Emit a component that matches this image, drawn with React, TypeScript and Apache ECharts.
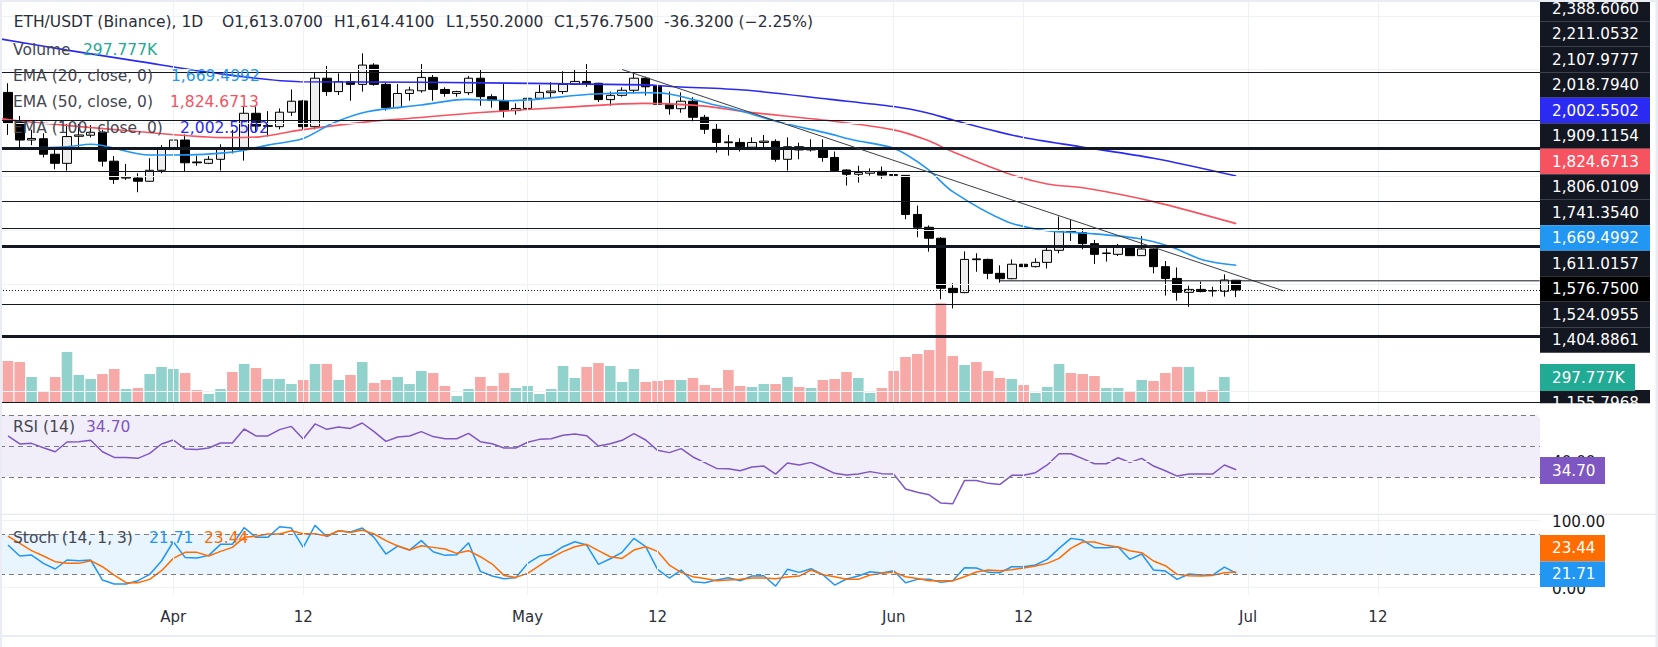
import React, { useEffect, useRef } from "react";
import * as echarts from "echarts";

// ---------- data (day index: 0 = Apr 1, candles Mar 18 .. Jun 30) ----------
const firstDay = -14;
const opens = [2315,2206,2137,2142,2084,2050,2151,2155,2166,2058, 1995,1995,1983,2024,2102,2137,2055,2050,2065,2107,
  2106,2237,2188,2187,2241,2283,2187,2368,2318,2355, 2345,2417,2345,2258,2311,2321,2371,2326,2311,2314,
  2368,2299,2285,2247,2255,2293,2314,2318,2345,2356, 2349,2288,2304,2323,2368,2339,2270,2254,2282,2222,
  2177,2130,2128,2110,2128,2132,2065,2112,2100,2108, 2072,2025,2009,2013,2020,2008,2005,1859,1811,1770,
  1583,1567,1693,1691,1639,1619,1673,1664,1680,1725, 1797,1791,1750,1713,1710,1737,1705,1730,1664,1620,
  1568,1579,1575,1572,1613.07];
const highs = [2349,2227,2175,2162,2106,2199,2199,2193,2175,2077, 2048,2013,2069,2118,2165,2158,2079,2077,2121,2175,
  2262,2262,2245,2255,2326,2287,2389,2414,2386,2386, 2461,2424,2351,2346,2336,2421,2380,2334,2321,2376,
  2401,2308,2346,2274,2324,2343,2353,2394,2399,2421, 2351,2318,2334,2386,2374,2343,2318,2315,2297,2231,
  2197,2156,2143,2147,2156,2140,2147,2127,2140,2140, 2094,2028,2041,2031,2038,2019,2006,1892,1818,1774,
  1602,1721,1714,1694,1669,1691,1691,1695,1739,1851, 1838,1807,1764,1732,1749,1739,1778,1732,1685,1661,
  1593,1608,1589,1635,1614.41];
const lows = [2156,2104,2118,2072,2028,2023,2106,2147,2038,1973, 1988,1942,1981,2013,2081,2019,2041,2047,2023,2087,
  2060,2168,2150,2177,2227,2177,2177,2302,2305,2284, 2318,2340,2247,2255,2284,2314,2284,2299,2299,2305,
  2265,2258,2221,2232,2249,2289,2295,2309,2343,2336, 2279,2265,2299,2311,2303,2253,2232,2239,2207,2160,
  2090,2079,2094,2103,2106,2056,2023,2065,2094,2056, 2019,1967,1978,2004,1993,1957,1841,1774,1720,1542,
  1508,1565,1645,1617,1604,1617,1654,1661,1657,1714, 1760,1729,1674,1683,1704,1704,1704,1639,1556,1537,
  1514,1568,1552,1552,1550.2];
const closes = [2199,2137,2143,2084,2050,2150,2156,2166,2058,1990, 1998,1983,2024,2102,2137,2052,2052,2065,2106,2103,
  2237,2189,2191,2241,2282,2187,2368,2318,2355,2345, 2417,2345,2258,2311,2324,2371,2326,2311,2318,2368,
  2299,2285,2247,2255,2293,2315,2320,2345,2356,2348, 2288,2304,2323,2368,2336,2270,2254,2282,2222,2177,
  2128,2127,2112,2128,2133,2065,2112,2100,2108,2072, 2023,2009,2016,2019,2006,2005,1859,1811,1770,1583,
  1567,1691,1690,1639,1619,1673,1664,1680,1725,1796, 1795,1750,1710,1715,1739,1705,1730,1664,1620,1568,
  1579,1571,1573,1614,1576.75];
const volumesK = [488,476,298,131,298,596,322,274,333,393, 155,167,333,417,393,345,143,95,155,357,
  453,405,274,274,214,262,453,453,262,322, 476,226,262,298,214,369,345,191,71,155,
  298,191,345,167,191,95,155,429,286,417, 464,429,238,393,238,250,262,262,286,202,
  167,381,191,179,214,214,298,179,167,262, 274,357,286,107,167,369,536,572,619,1176,
  548,441,476,369,286,274,202,107,179,453, 345,333,310,167,167,131,262,250,345,417,
  417,131,143,297.777,null];
const rsiValues = [56.6,51.4,51.8,49.0,46.4,52.7,52.9,53.8,46.4,42.7, 42.7,42.1,45.3,51.4,54.0,48.2,47.9,48.8,52.0,52.0,
  61.1,56.6,56.6,60.7,62.8,54.6,64.4,60.9,62.4,61.5, 65.0,59.4,53.1,55.9,56.6,59.4,56.2,54.8,54.8,58.3,
  52.9,51.6,48.8,48.8,52.5,54.4,54.8,57.0,57.9,56.8, 50.1,51.6,53.8,58.1,54.0,47.3,45.8,48.4,43.0,39.3,
  35.6,35.4,34.1,36.5,37.1,31.9,39.1,37.8,39.5,36.0, 32.4,31.3,31.9,33.5,32.2,31.9,22.2,20.1,18.5,13.1,
  12.7,27.8,27.8,25.9,25.2,31.1,31.1,32.8,37.8,45.1, 45.1,41.9,38.6,38.6,42.5,39.5,42.1,37.1,34.1,30.6,
  31.9,31.9,31.9,37.8,34.70];
const stochK = [63.6,47.2,48.7,36.3,27.9,41.3,40.3,41.3,11.5,5.5, 5.5,10.5,19.9,39.8,68.5,45.2,44.2,48.2,64.6,64.6,
  89.4,75.0,75.0,90.9,88.9,60.1,92.9,76.0,84.9,82.9, 88.9,75.0,50.2,62.1,56.1,70.1,53.7,48.2,49.2,67.1,
  24.4,17.4,13.5,15.0,36.3,47.2,49.7,61.1,68.5,63.6, 34.8,43.2,52.7,73.5,61.1,27.4,14.5,26.4,9.0,7.5,
  11.5,15.0,10.5,17.4,17.9,2.5,27.4,22.9,28.4,19.5, 4.0,13.0,17.4,23.9,21.9,25.4,7.5,12.5,12.5,8.0,
  10.5,29.8,29.3,22.9,22.4,31.3,31.3,33.8,42.2,58.6, 73.5,71.0,59.6,59.6,61.1,42.2,50.2,26.4,24.9,12.5,
  20.4,18.9,18.9,30.8,21.71];
const stochD = [77.0,66.1,55.2,47.2,38.8,36.3,36.3,40.3,31.3,18.9, 7.5,7.5,12.5,25.4,43.7,52.7,52.7,47.2,54.2,60.1,
  75.0,76.5,80.0,80.0,84.9,80.5,80.5,77.0,84.9,82.4, 85.9,80.0,70.1,62.1,56.1,62.6,60.1,57.6,51.2,55.2,
  46.2,35.3,18.4,15.4,21.4,32.8,44.7,53.7,61.1,64.6, 55.2,46.2,43.7,56.1,61.1,54.2,33.8,22.9,16.4,13.9,
  10.5,11.5,12.5,14.5,14.5,13.5,15.9,17.4,26.4,19.4, 16.4,12.5,12.5,18.9,21.4,23.4,16.4,13.9,10.5,10.5,
  10.5,16.4,23.4,26.4,25.4,26.9,29.3,32.3,36.3,43.7, 58.6,68.1,68.1,63.1,60.6,55.2,52.2,39.8,32.8,19.9,
  17.9,17.4,18.4,22.4,23.44];

const ema20Days = [-14.7,-9,-7,-2,0,5,8,11,13.5,16.4,21,24.8,28.5,35.3,39.8,42,45.5,48.3,51.1,55.6,57.6,61,63.8,66,70.6,74,77.3,81.6,84.4,87.2,90];
const ema20Values = [2106,2112,2121,2081,2081,2092,2118,2143,2200,2243,2268,2289,2284,2308,2314,2309,2272,2243,2206,2160,2137,2106,2031,1944,1832,1798,1789,1770,1739,1689,1669.4992];
const ema50Days = [-14.7,-13,-2.8,4.5,7.3,10.7,16.4,20.9,25.7,34.2,39.8,42.1,45.4,48.3,55.6,61,63.8,66,70.6,74,77.3,83,90];
const ema50Values = [2218,2208,2168,2146,2149,2174,2205,2221,2239,2262,2274,2272,2262,2243,2209,2175,2137,2093,2013,1973,1957,1907,1824.6713];
const ema100Days = [-14.7,-9,-2.8,3,10.7,20.9,39.8,42.6,48.3,55.6,61,63.8,66,71.7,76.8,83,90];
const ema100Values = [2515,2473,2430,2390,2355,2353,2343,2336,2324,2289,2262,2239,2212,2149,2112,2069,2002.5502];

const trendDays = [38, 94];
const trendPrices = [2400.6, 1573.8];
const rayDays = [70, 115.7];
const rayPrice = 1611.0157;
const levelPrices = [2388.606, 2211.0532, 2107.9777, 2018.794, 1909.1154, 1806.0109, 1741.354, 1524.0955, 1404.8861, 1155.7968];
const thickLevels = [2107.9777, 1741.354, 1404.8861];
const lastClose = 1576.75;
const priceGridLevels = [1200, 1400, 1600, 1800, 2000, 2200, 2400, 2600];

const tickDays = [0, 11, 30, 41, 61, 72, 91, 102];
const tickLabels = ["Apr", "12", "May", "12", "Jun", "12", "Jul", "12"];

const scaleLabels = ["2,388.6060","2,211.0532","2,107.9777","2,018.7940","2,002.5502","1,909.1154","1,824.6713",
  "1,806.0109","1,741.3540","1,669.4992","1,611.0157","1,576.7500","1,524.0955","1,404.8861"];
const scaleLabelColors = ["#131722","#131722","#131722","#131722","#2a2af2","#131722","#f7525f",
  "#131722","#131722","#2196f3","#131722","#000000","#131722","#131722"];

const titleParts = ["ETH/USDT (Binance), 1D", "O1,613.0700", "H1,614.4100", "L1,550.2000", "C1,576.7500", "-36.3200 (\u22122.25%)"];

// ---------- layout constants ----------
const FONT = "'DejaVu Sans', sans-serif";
const X_MIN = -14.674, X_MAX = 115.724;
const PRICE_MIN = 1154.58, PRICE_MAX = 2660.19;
const VOL_MAX = 4788;
const RSI_MIN = 6.7, RSI_MAX = 77.3;
const ST_MIN = -10.8, ST_MAX = 108.3;
const GRID_W = 1540;

const UP_VOL = "#92d2cc";
const DOWN_VOL = "#f7a9a7";

function buildOption() {
  const days = opens.map((_, i) => firstDay + i);
  const candles = days.map((d, i) => [d, opens[i], closes[i], lows[i], highs[i]]);
  const vols = days
    .map((d, i) => ({ d, i }))
    .filter(({ i }) => volumesK[i] != null)
    .map(({ d, i }) => ({
      value: [d, volumesK[i]],
      itemStyle: { color: closes[i] >= opens[i] ? UP_VOL : DOWN_VOL },
    }));
  const pairs = (xs: number[], ys: number[]) => xs.map((x, i) => [x, ys[i]]);

  const grids = [
    { left: 0, top: 0, width: GRID_W, height: 403 },
    { left: 0, top: 0, width: GRID_W, height: 402 },
    { left: 0, top: 404, width: GRID_W, height: 109 },
    { left: 0, top: 515, width: GRID_W, height: 80 },
  ];
  const xAxes = grids.map((_, i) => ({
    type: "value",
    gridIndex: i,
    min: X_MIN,
    max: X_MAX,
    axisLine: { show: false },
    axisTick: { show: false },
    splitLine: { show: false },
    axisLabel:
      i === 3
        ? {
            show: true,
            customValues: tickDays,
            margin: 14,
            color: "#2a2e39",
            fontSize: 15,
            fontFamily: FONT,
            formatter: (v: number) => {
              const k = tickDays.indexOf(Math.round(v));
              return k >= 0 ? tickLabels[k] : "";
            },
          }
        : { show: false },
  }));
  const yRanges = [
    [PRICE_MIN, PRICE_MAX],
    [0, VOL_MAX],
    [RSI_MIN, RSI_MAX],
    [ST_MIN, ST_MAX],
  ];
  const yAxes = yRanges.map(([mn, mx], i) => ({
    type: "value",
    gridIndex: i,
    min: mn,
    max: mx,
    show: false,
    splitLine: { show: false },
  }));

  const faint = { color: "#eef1f6", width: 1, type: "solid" };
  const ml = (data: any[], lineStyle: any) => ({
    symbol: ["none", "none"],
    silent: true,
    animation: false,
    label: { show: false },
    emphasis: { disabled: true },
    lineStyle,
    data,
  });
  const dashed = { color: "#787b86", width: 1, type: [5, 4] };

  const series: any[] = [
    {
      type: "line", xAxisIndex: 0, yAxisIndex: 0, data: [], z: 0, silent: true,
      markLine: ml([...tickDays.map((d) => ({ xAxis: d })), ...priceGridLevels.map((p) => ({ yAxis: p }))], faint),
    },
    {
      type: "bar", xAxisIndex: 1, yAxisIndex: 1, data: vols, barWidth: 10.6, z: 1, silent: true,
    },
    {
      type: "candlestick", xAxisIndex: 0, yAxisIndex: 0, data: candles, barWidth: 9, z: 3,
      encode: { x: 0, y: [1, 2, 3, 4] },
      itemStyle: { color: "#eeeeee", color0: "#000000", borderColor: "#000000", borderColor0: "#000000", borderWidth: 1 },
      silent: true,
    },
    { type: "line", xAxisIndex: 0, yAxisIndex: 0, data: pairs(ema100Days, ema100Values), showSymbol: false, smooth: 0.3, z: 4, silent: true, lineStyle: { color: "#2a2af2", width: 1.6 } },
    { type: "line", xAxisIndex: 0, yAxisIndex: 0, data: pairs(ema50Days, ema50Values), showSymbol: false, smooth: 0.3, z: 4, silent: true, lineStyle: { color: "#f7525f", width: 1.6 } },
    { type: "line", xAxisIndex: 0, yAxisIndex: 0, data: pairs(ema20Days, ema20Values), showSymbol: false, smooth: 0.3, z: 4, silent: true, lineStyle: { color: "#2196f3", width: 1.6 } },
    { type: "line", xAxisIndex: 0, yAxisIndex: 0, data: pairs(trendDays, trendPrices), showSymbol: false, z: 5, silent: true, lineStyle: { color: "#3a3d46", width: 1 } },
    { type: "line", xAxisIndex: 0, yAxisIndex: 0, data: rayDays.map((d) => [d, rayPrice]), showSymbol: false, z: 5, silent: true, lineStyle: { color: "#131722", width: 1 } },
    {
      type: "line", xAxisIndex: 0, yAxisIndex: 0, data: [], z: 6, silent: true,
      markLine: ml(
        [
          ...levelPrices.map((p) => ({
            yAxis: p,
            lineStyle: { color: "#131722", width: thickLevels.includes(p) ? 3 : 1, type: "solid" },
          })),
          { yAxis: lastClose, lineStyle: { color: "#131722", width: 1, type: [1, 2] } },
        ],
        { color: "#131722", width: 1 }
      ),
    },
    {
      type: "line", xAxisIndex: 2, yAxisIndex: 2, data: [], z: 0, silent: true,
      markArea: { silent: true, itemStyle: { color: "rgba(126,87,194,0.1)" }, data: [[{ yAxis: 70 }, { yAxis: 30 }]] },
      markLine: ml([...tickDays.map((d) => ({ xAxis: d })), { yAxis: 40 }], faint),
    },
    {
      type: "line", xAxisIndex: 2, yAxisIndex: 2, data: [], z: 1, silent: true,
      markLine: ml([{ yAxis: 70 }, { yAxis: 50 }, { yAxis: 30 }], dashed),
    },
    {
      type: "line", xAxisIndex: 2, yAxisIndex: 2, data: days.map((d, i) => [d, rsiValues[i]]), showSymbol: false, z: 3, silent: true,
      lineStyle: { color: "#7e57c2", width: 1.5 },
    },
    {
      type: "line", xAxisIndex: 3, yAxisIndex: 3, data: [], z: 0, silent: true,
      markArea: { silent: true, itemStyle: { color: "rgba(33,150,243,0.1)" }, data: [[{ yAxis: 80 }, { yAxis: 20 }]] },
      markLine: ml([...tickDays.map((d) => ({ xAxis: d })), { yAxis: 100 }, { yAxis: 0 }], faint),
    },
    {
      type: "line", xAxisIndex: 3, yAxisIndex: 3, data: [], z: 1, silent: true,
      markLine: ml([{ yAxis: 80 }, { yAxis: 20 }], dashed),
    },
    {
      type: "line", xAxisIndex: 3, yAxisIndex: 3, data: days.map((d, i) => [d, stochK[i]]), showSymbol: false, z: 3, silent: true,
      lineStyle: { color: "#2196f3", width: 1.5 },
    },
    {
      type: "line", xAxisIndex: 3, yAxisIndex: 3, data: days.map((d, i) => [d, stochD[i]]), showSymbol: false, z: 4, silent: true,
      lineStyle: { color: "#ff6d00", width: 1.5 },
    },
  ];

  const Z = 100;
  const txt = (x: number, y: number, text: string, fill: string, size = 15.5, extra: any = {}) => ({
    type: "text", x, y, z: Z + 2, silent: true,
    style: { text, fill, fontSize: size, fontFamily: FONT, verticalAlign: "middle", align: "left", ...extra },
  });
  const rect = (x: number, y: number, w: number, h: number, fill: string, z = Z) => ({
    type: "rect", z, silent: true, shape: { x, y, width: w, height: h }, style: { fill },
  });
  const titleX = [13.7, 222, 334, 446, 554, 664];
  const g: any[] = [];
  titleParts.forEach((t, i) => g.push(txt(titleX[i], 22, t, "#2a2e39")));
  g.push(txt(13, 50, "Volume", "#434651"));
  g.push(txt(83, 50, "297.777K", "#22ab94"));
  g.push(txt(13, 76, "EMA (20, close, 0)", "#434651"));
  g.push(txt(171, 76, "1,669.4992", "#2196f3"));
  g.push(txt(13, 102.3, "EMA (50, close, 0)", "#434651"));
  g.push(txt(170, 102.3, "1,824.6713", "#f7525f"));
  g.push(txt(13, 127.7, "EMA (100, close, 0)", "#434651"));
  g.push(txt(180, 127.7, "2,002.5502", "#2a2af2"));
  g.push(txt(13, 426.7, "RSI (14)", "#434651"));
  g.push(txt(86, 426.7, "34.70", "#7e57c2"));
  g.push(txt(13, 538.3, "Stoch (14, 1, 3)", "#434651"));
  g.push(txt(149, 538.3, "21.71", "#2196f3"));
  g.push(txt(204, 538.3, "23.44", "#ff6d00"));

  scaleLabels.forEach((t, i) => {
    const cy = 8.5 + 25.5 * i;
    g.push(rect(1540, cy - 12.75, 110, 25.5, scaleLabelColors[i]));
    g.push(txt(1552, cy, t, "#ffffff", 15.2));
  });
  g.push(rect(1540, 390, 110, 25, "#131722"));
  g.push(txt(1552, 402.5, "1,155.7968", "#ffffff", 15.2));
  g.push(rect(1538, 403.2, 118, 14, "#ffffff", Z + 5));
  g.push(rect(1540, 364, 95, 27, "#22ab94", Z + 1));
  g.push({ ...txt(1552, 377.5, "297.777K", "#ffffff", 15.2), z: Z + 3 });

  g.push(txt(1552, 461.5, "40.00", "#131722", 15.2));
  g.push(rect(1540, 457, 65, 27, "#7e57c2", Z + 3));
  g.push({ ...txt(1552, 470.5, "34.70", "#ffffff", 15.2), z: Z + 4 });
  g.push(txt(1552, 522, "100.00", "#131722", 15.2));
  g.push(txt(1552, 589, "0.00", "#131722", 15.2));
  g.push(rect(1540, 535, 65, 26.5, "#ff6d00", Z + 3));
  g.push({ ...txt(1552, 548.3, "23.44", "#ffffff", 15.2), z: Z + 4 });
  g.push(rect(1540, 561.5, 65, 25.5, "#2196f3", Z + 3));
  g.push({ ...txt(1552, 574.3, "21.71", "#ffffff", 15.2), z: Z + 4 });

  g.push(rect(0, 513.8, 1656, 1, "#e0e3eb"));
  g.push(rect(0, 0, 1658, 2, "#e9ecf2", Z + 10));
  g.push(rect(0, 0, 2, 647, "#e9ecf2", Z + 10));
  g.push(rect(1655.5, 0, 2.5, 647, "#e9ecf2", Z + 10));
  g.push(rect(0, 635, 1658, 2, "#e9ecf2", Z + 10));

  return {
    animation: false,
    backgroundColor: "#ffffff",
    grid: grids,
    xAxis: xAxes,
    yAxis: yAxes,
    series,
    graphic: g,
  };
}

export default function App() {
  const ref = useRef<HTMLDivElement>(null);
  useEffect(() => {
    document.body.style.margin = "0";
    const chart = echarts.init(ref.current as HTMLDivElement, null, { renderer: "svg" });
    chart.setOption(buildOption() as any);
    return () => chart.dispose();
  }, []);
  return <div ref={ref} style={{ width: 1658, height: 647, background: "#ffffff" }} />;
}
